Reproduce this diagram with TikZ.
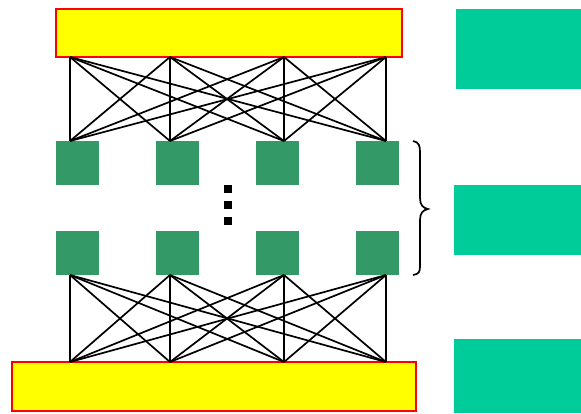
\documentclass[tikz,border=0pt]{standalone}
\usetikzlibrary{calc}
\definecolor{yel}{HTML}{FFFF00}
\definecolor{redb}{HTML}{FF0000}
\definecolor{sq}{HTML}{339966}
\definecolor{teal2}{HTML}{00CC99}
\tikzset{
  ybox/.style={draw=redb,fill=yel,line width=1.5pt},
  sqbox/.style={fill=sq},
  tbox/.style={fill=teal2},
  conn/.style={line width=1.7pt,black},
  dotbox/.style={fill=black}
}
\begin{document}
\begin{tikzpicture}[x=1pt,y=-1pt]
\useasboundingbox (0,0) rectangle (581,413);
% yellow bars
\path[ybox] (56,9) rectangle (402,57);
\node[inner sep=0,minimum size=0] (ytop) at (229,33) {};
\path[ybox] (12,362) rectangle (416,411);
\node[inner sep=0,minimum size=0] (ybot) at (214,386) {};
% teal boxes
\path[tbox] (456,9) rectangle (581,89);
\node[inner sep=0] (c1) at (518,49) {};
\path[tbox] (454,185) rectangle (581,255);
\node[inner sep=0] (c2) at (517,220) {};
\path[tbox] (454,339) rectangle (581,413);
\node[inner sep=0] (c3) at (517,376) {};
% green squares
\foreach \x [count=\i] in {56,156,256,356} {
  \path[sqbox] (\x,141) rectangle ++(43,44);
  \path[sqbox] (\x,231) rectangle ++(43,44);
}
% dots
\foreach \yy [count=\i] in {185,201,217} {
  \path[dotbox] (224,\yy) rectangle ++(8,8);
}
% connector coordinates
\foreach \x [count=\i] in {70,170,284,386} {
  \coordinate (t\i) at (\x,57);
  \coordinate (u\i) at (\x,141);
  \coordinate (l\i) at (\x,275);
  \coordinate (m\i) at (\x,362);
}
\foreach \i in {1,...,4} {
  \foreach \j in {1,...,4} {
    \draw[conn] (t\i) -- (u\j);
    \draw[conn] (l\i) -- (m\j);
  }
}
% brace
\draw[line width=1.7pt] (413,141) .. controls (419,142) and (420,146) .. (420,152)
  -- (420,198) .. controls (420,205) and (423,208) .. (428,209)
  .. controls (423,210) and (420,213) .. (420,220)
  -- (420,266) .. controls (420,272) and (419,274) .. (413,275);
\end{tikzpicture}
\end{document}
